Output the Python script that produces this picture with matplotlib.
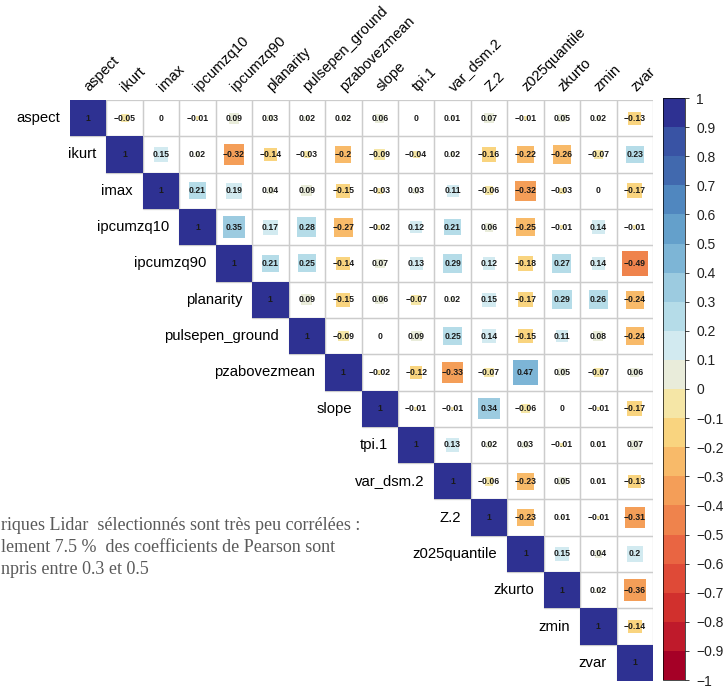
import numpy as np
import matplotlib
matplotlib.use('Agg')  # no display
import matplotlib.pyplot as plt
from matplotlib.patches import Rectangle
from matplotlib.colors import ListedColormap, BoundaryNorm
from matplotlib.cm import ScalarMappable

plt.rcParams['font.family'] = ['Liberation Sans', 'DejaVu Sans']

# variable names (rows / columns)
variables = ['aspect', 'ikurt', 'imax', 'ipcumzq10', 'ipcumzq90', 'planarity',
             'pulsepen_ground', 'pzabovezmean', 'slope', 'tpi.1', 'var_dsm.2',
             'Z.2', 'z025quantile', 'zkurto', 'zmin', 'zvar']

# upper triangle, each row starts on the diagonal
upper_rows = [
    [1, -0.05, 0, -0.01, 0.09, 0.03, 0.02, 0.02, 0.06, 0, 0.01, 0.07, -0.01, 0.05, 0.02, -0.13],
    [1, 0.15, 0.02, -0.32, -0.14, -0.03, -0.2, -0.09, -0.04, 0.02, -0.16, -0.22, -0.26, -0.07, 0.23],
    [1, 0.21, 0.19, 0.04, 0.09, -0.15, -0.03, 0.03, 0.11, -0.06, -0.32, -0.03, 0, -0.17],
    [1, 0.35, 0.17, 0.28, -0.27, -0.02, 0.12, 0.21, 0.06, -0.25, -0.01, 0.14, -0.01],
    [1, 0.21, 0.25, -0.14, 0.07, 0.13, 0.29, 0.12, -0.18, 0.27, 0.14, -0.49],
    [1, 0.09, -0.15, 0.06, -0.07, 0.02, 0.15, -0.17, 0.29, 0.26, -0.24],
    [1, -0.09, 0, 0.09, 0.25, 0.14, -0.15, 0.11, 0.08, -0.24],
    [1, -0.02, -0.12, -0.33, -0.07, 0.47, 0.05, -0.07, 0.06],
    [1, -0.01, -0.01, 0.34, -0.06, 0, -0.01, -0.17],
    [1, 0.13, 0.02, 0.03, -0.01, 0.01, 0.07],
    [1, -0.06, -0.23, 0.05, 0.01, -0.13],
    [1, -0.23, 0.01, -0.01, -0.31],
    [1, 0.15, 0.04, 0.2],
    [1, 0.02, -0.36],
    [1, -0.14],
    [1],
]

# colour bins from -1 to 1, step 0.1
bin_colors = ['#a50026', '#bf1a2b', '#d1302d', '#df4a37', '#e96542',
              '#ef834c', '#f49e58', '#f8ba69', '#f9d47f', '#f5e6a6',
              '#e9ecda', '#d2eaf0', '#b5dce8', '#9ccbe0', '#7db5d6',
              '#64a0cb', '#5087bf', '#4169ae', '#3953a4', '#2e3192']
bin_edges = np.linspace(-1, 1, 21)
bar_ticks = np.round(np.linspace(1, -1, 21), 1)

note_lines = ['riques Lidar  sélectionnés sont très peu corrélées :',
              'lement 7.5 %  des coefficients de Pearson sont',
              'npris entre 0.3 et 0.5']


def fmt(v):
    s = f'{v:g}'
    if s == '-0':
        s = '0'
    return s.replace('-', '\u2212')


def color_for(r):
    idx = int(np.ceil(np.round((r + 1) * 10, 6))) - 1
    idx = min(max(idx, 0), len(bin_colors) - 1)
    return bin_colors[idx]


n = len(variables)
corr = np.full((n, n), np.nan)
for i, row in enumerate(upper_rows):
    corr[i, i:] = row

W, H = 726, 686
fig = plt.figure(figsize=(W / 100, H / 100), dpi=100)

ax = fig.add_axes([70 / W, 5 / H, 583 / W, 581 / H])
ax.set_xlim(0, n)
ax.set_ylim(n, 0)
ax.axis('off')

# grid of the upper cells
for i in range(n):
    for j in range(i, n):
        ax.add_patch(Rectangle((j, i), 1, 1, fill=False, edgecolor='#cccccc', lw=0.9, zorder=1))

# squares, area proportional to |r|
for i in range(n):
    for j in range(i, n):
        r = corr[i, j]
        s = np.sqrt(abs(r))
        if s > 0:
            ax.add_patch(Rectangle((j + 0.5 - s / 2, i + 0.5 - s / 2), s, s,
                                   facecolor=color_for(r), edgecolor='none', zorder=2))
        ax.text(j + 0.5, i + 0.5, fmt(r), ha='center', va='center', fontsize=6.2,
                fontweight='bold', color='#1a1a1a', zorder=3)

# row labels along the diagonal
for i, name in enumerate(variables):
    ax.text(i - 0.27, i + 0.5, name, ha='right', va='center', fontsize=10.7,
            color='black', clip_on=False)

# column labels on top
for j, name in enumerate(variables):
    ax.text(j + 0.6, -0.17, name, rotation=45, rotation_mode='anchor',
            ha='left', va='bottom', fontsize=10.5, color='black', clip_on=False)

# colour bar
cmap = ListedColormap(bin_colors)
norm = BoundaryNorm(bin_edges, cmap.N)
cax = fig.add_axes([663 / W, 6 / H, 22 / W, 582 / H])
cb = fig.colorbar(ScalarMappable(norm=norm, cmap=cmap), cax=cax, ticks=bar_ticks)
cb.set_ticklabels([fmt(t) for t in bar_ticks])
cax.tick_params(length=3, width=0.6, pad=5, labelsize=10, colors='#222222')
cb.outline.set_linewidth(0.5)

# note at the bottom left
for k, line in enumerate(note_lines):
    fig.text(1 / W, 1 - (525 + 22 * k) / H, line, family='Liberation Serif',
             fontsize=13, color='#5a5a5a', va='center', ha='left')

fig.savefig('out.png', dpi=100)
